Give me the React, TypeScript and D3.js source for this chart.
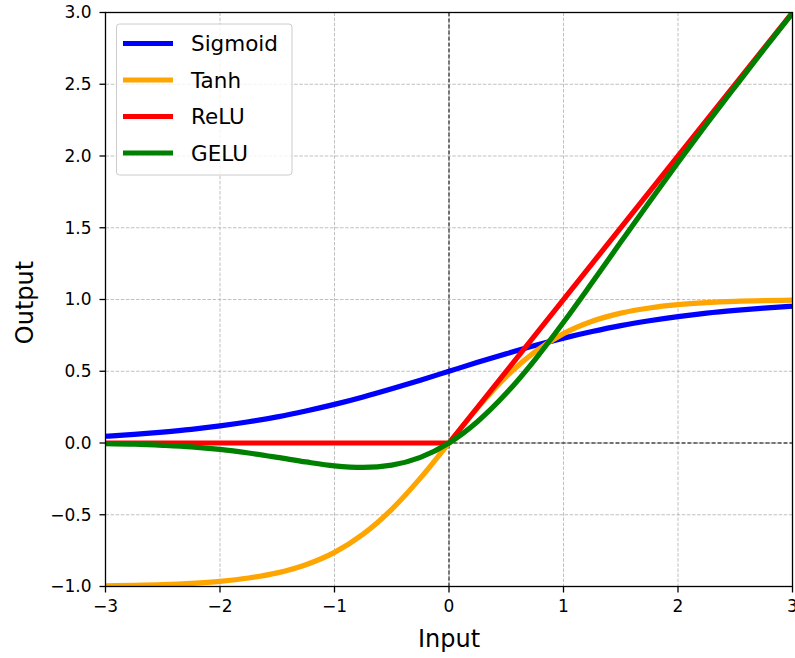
import React from 'react';
import * as d3 from 'd3';

// sample inputs (x) and values
const inputs = [-3, -2.75, -2.5, -2.25, -2, -1.75, -1.5, -1.25, -1, -0.75, -0.5, -0.25, 0,
  0.25, 0.5, 0.75, 1, 1.25, 1.5, 1.75, 2, 2.25, 2.5, 2.75, 3];

const sigmoidValues = [0.047, 0.06, 0.076, 0.095, 0.119, 0.148, 0.182, 0.223, 0.269, 0.321, 0.378, 0.438, 0.5,
  0.562, 0.622, 0.679, 0.731, 0.777, 0.818, 0.852, 0.881, 0.905, 0.924, 0.94, 0.953];

const tanhValues = [-0.995, -0.992, -0.987, -0.978, -0.964, -0.941, -0.905, -0.848, -0.762, -0.635, -0.462, -0.245, 0,
  0.245, 0.462, 0.635, 0.762, 0.848, 0.905, 0.941, 0.964, 0.978, 0.987, 0.992, 0.995];

const reluInputs = [-3, 0, 3];
const reluValues = [0, 0, 3];

const geluValues = [-0.004, -0.008, -0.016, -0.027, -0.045, -0.07, -0.1, -0.132, -0.159, -0.17, -0.154, -0.1, 0,
  0.15, 0.346, 0.58, 0.841, 1.118, 1.4, 1.68, 1.955, 2.223, 2.484, 2.742, 2.996];

const xTicks = [-3, -2, -1, 0, 1, 2, 3];
const yTicks = [-1, -0.5, 0, 0.5, 1, 1.5, 2, 2.5, 3];

const seriesNames = ['Sigmoid', 'Tanh', 'ReLU', 'GELU'];
const seriesColors = ['#0000ff', '#ffa500', '#ff0000', '#008000'];

const font = 'DejaVu Sans, sans-serif';
const minus = (s: string) => s.replace('-', '\u2212');

export default function App() {
  const width = 795, height = 658;
  const left = 105.5, right = 792.5, top = 12.5, bottom = 586.5;

  const x = d3.scaleLinear().domain([-3, 3]).range([left, right]);
  const y = d3.scaleLinear().domain([-1, 3]).range([bottom, top]);

  const smooth = d3.line<[number, number]>()
    .x(d => x(d[0]))
    .y(d => y(d[1]))
    .curve(d3.curveMonotoneX);
  const straight = d3.line<[number, number]>()
    .x(d => x(d[0]))
    .y(d => y(d[1]));

  const zip = (xs: number[], ys: number[]) => xs.map((v, i) => [v, ys[i]] as [number, number]);

  const paths = [
    smooth(zip(inputs, sigmoidValues)),
    smooth(zip(inputs, tanhValues)),
    straight(zip(reluInputs, reluValues)),
    smooth(zip(inputs, geluValues)),
  ];

  const legendRows = [43.5, 80, 116.5, 153];

  return (
    <svg width={width} height={height} style={{ position: 'absolute', left: 0, top: 0, background: '#fff' }}>
      <defs>
        <clipPath id="plot">
          <rect x={left} y={top} width={right - left} height={bottom - top} />
        </clipPath>
      </defs>
      <g className="grid">
        {xTicks.map(t => (
          <line key={'gx' + t} x1={x(t)} x2={x(t)} y1={top} y2={bottom}
            stroke="#b0b0b0" strokeWidth={0.8} strokeDasharray="3.5,1.6" />
        ))}
        {yTicks.map(t => (
          <line key={'gy' + t} x1={left} x2={right} y1={y(t)} y2={y(t)}
            stroke="#b0b0b0" strokeWidth={0.8} strokeDasharray="3.5,1.6" />
        ))}
      </g>
      <line x1={x(0)} x2={x(0)} y1={top} y2={bottom} stroke="#000" strokeWidth={1} strokeDasharray="4,2" />
      <line x1={left} x2={right} y1={y(0)} y2={y(0)} stroke="#000" strokeWidth={1} strokeDasharray="4,2" />
      <g clipPath="url(#plot)">
        {paths.map((d, i) => (
          <path key={seriesNames[i]} d={d || ''} fill="none" stroke={seriesColors[i]}
            strokeWidth={5.2} strokeLinejoin="round" strokeLinecap="butt" />
        ))}
      </g>
      <rect x={left} y={top} width={right - left} height={bottom - top} fill="none" stroke="#000" strokeWidth={1.3} />
      <g className="x-axis" fontFamily={font} fontSize={17} fill="#000">
        {xTicks.map(t => (
          <g key={'tx' + t} transform={`translate(${x(t)},${bottom})`}>
            <line y1={0} y2={6} stroke="#000" strokeWidth={1.3} />
            <text y={25} textAnchor="middle">{minus(String(t))}</text>
          </g>
        ))}
      </g>
      <g className="y-axis" fontFamily={font} fontSize={17} fill="#000">
        {yTicks.map(t => (
          <g key={'ty' + t} transform={`translate(${left},${y(t)})`}>
            <line x1={0} x2={-6} stroke="#000" strokeWidth={1.3} />
            <text x={-14} dy="0.35em" textAnchor="end">{minus(d3.format('.1f')(t))}</text>
          </g>
        ))}
      </g>
      <text x={x(0)} y={646.5} textAnchor="middle" fontFamily={font} fontSize={24}>Input</text>
      <text transform={`translate(33,${(top + bottom) / 2 + 3}) rotate(-90)`} textAnchor="middle"
        fontFamily={font} fontSize={24}>Output</text>
      <g className="legend">
        <rect x={116.5} y={24} width={175.5} height={151} rx={3} fill="#fff" fillOpacity={0.8}
          stroke="#cccccc" strokeWidth={1} />
        {seriesNames.map((name, i) => (
          <g key={'lg' + name}>
            <line x1={123} x2={173} y1={legendRows[i]} y2={legendRows[i]} stroke={seriesColors[i]} strokeWidth={5.2} />
            <text x={191} y={legendRows[i]} dy="0.35em" fontFamily={font} fontSize={21.5}>{name}</text>
          </g>
        ))}
      </g>
    </svg>
  );
}
